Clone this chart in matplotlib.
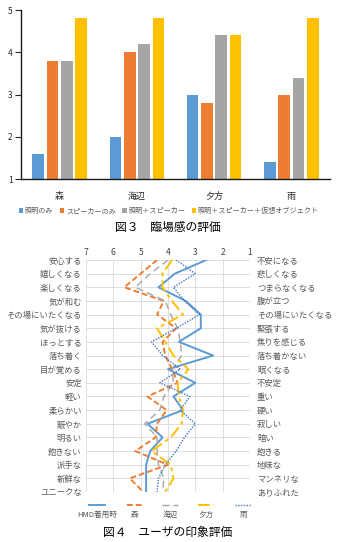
import numpy as np
import matplotlib
matplotlib.use("Agg")
import matplotlib.pyplot as plt
from matplotlib.lines import Line2D

plt.rcParams["font.family"] = ["Noto Sans CJK JP", "DejaVu Sans"]

# --- Fig.3 data: presence ratings ---
places = ["森", "海辺", "夕方", "雨"]
bar_series = ["照明のみ", "スピーカーのみ", "照明＋スピーカー", "照明＋スピーカー＋仮想オブジェクト"]
light_only = [1.6, 2.0, 3.0, 1.4]
speaker_only = [3.8, 4.0, 2.8, 3.0]
light_speaker = [3.8, 4.2, 4.4, 3.4]
light_speaker_obj = [4.8, 4.8, 4.4, 4.8]
bar_colors = ["#5B9BD5", "#ED7D31", "#A5A5A5", "#FFC000"]

# --- Fig.4 data: impression profile (semantic differential) ---
left_words = ["安心する", "嬉しくなる", "楽しくなる", "気が和む", "その場にいたくなる",
              "気が抜ける", "ほっとする", "落ち着く", "目が覚める", "安定", "軽い",
              "柔らかい", "賑やか", "明るい", "飽きない", "派手な", "新鮮な", "ユニークな"]
right_words = ["不安になる", "悲しくなる", "つまらなくなる", "腹が立つ", "その場にいたくなる",
               "緊張する", "焦りを感じる", "落ち着かない", "眠くなる", "不安定", "重い",
               "硬い", "寂しい", "暗い", "飽きる", "地味な", "マンネリな", "ありふれた"]
scale_ticks = [7, 6, 5, 4, 3, 2, 1]
line_names = ["HMD着用時", "森", "海辺", "夕方", "雨"]
hmd = [2.6, 3.75, 4.35, 3.35, 2.8, 2.8, 3.6, 2.35, 4.0, 3.0, 3.8, 3.45, 4.75, 4.2, 4.65, 4.8, 4.8, 4.8]
mori = [4.4, 5.0, 5.6, 4.15, 4.4, 3.7, 4.2, 4.1, 3.85, 3.65, 4.75, 4.05, 4.4, 4.45, 5.2, 4.0, 5.4, 4.9]
umibe = [4.0, 4.65, 5.2, 4.1, 3.9, 3.65, 3.55, 3.5, 3.85, 3.8, 4.15, 4.3, 4.85, 4.4, 4.4, 4.35, 4.15, 4.2]
yuugata = [3.85, 4.2, 4.2, 3.85, 3.45, 4.4, 4.1, 3.8, 3.25, 3.65, 3.6, 3.45, 3.5, 3.9, 4.6, 3.9, 3.8, 4.1]
ame = [3.7, 3.0, 3.8, 3.4, 2.85, 3.7, 4.6, 4.2, 3.55, 4.3, 3.2, 3.55, 3.0, 3.4, 3.7, 4.1, 4.35, 4.4]

line_styles = [
    dict(color="#5B9BD5", lw=1.4, ls="-"),
    dict(color="#ED7D31", lw=1.4, ls=(0, (3, 1.5))),
    dict(color="#A5A5A5", lw=1.0, ls=(0, (5, 3))),
    dict(color="#FFC000", lw=1.4, ls=(0, (6, 2, 2, 2))),
    dict(color="#4472C4", lw=1.0, ls=(0, (1, 1))),
]

W, H = 337, 542
fig = plt.figure(figsize=(W / 100, H / 100), dpi=100)
gray = "#595959"

# ---------- Fig.3 bar chart ----------
ax1 = fig.add_axes([21 / W, 1 - 179 / H, 309 / W, 169 / H])
x = np.arange(len(places))
width = 0.15
pitch = 0.185
for i, (vals, col, name) in enumerate(zip(
        [light_only, speaker_only, light_speaker, light_speaker_obj], bar_colors, bar_series)):
    # Excel-style bars start from the axis minimum (1)
    ax1.bar(x + (i - 1.5) * pitch, np.array(vals) - 1, width, bottom=1, color=col, label=name)
ax1.set_xlim(-0.5, 3.5)
ax1.set_ylim(1, 5)
ax1.set_yticks([1, 2, 3, 4, 5])
ax1.set_xticks(x)
ax1.set_xticklabels(places, fontsize=6.5, color="#262626")
ax1.tick_params(axis="x", length=0, pad=9)
ax1.tick_params(axis="y", labelsize=6, colors="#262626", length=4, width=0.8, pad=2)
for s in ["top", "right"]:
    ax1.spines[s].set_visible(False)
for s in ["left", "bottom"]:
    ax1.spines[s].set_linewidth(1.0)
    ax1.spines[s].set_color("#1a1a1a")
leg = ax1.legend(loc="center", bbox_to_anchor=(169 / W, 1 - 211 / H), bbox_transform=fig.transFigure,
                 ncol=4, fontsize=5.1, frameon=False, handlelength=0.6, handleheight=0.6,
                 handletextpad=0.25, columnspacing=0.9, borderpad=0)
for t in leg.get_texts():
    t.set_color(gray)
fig.text(168 / W, 1 - 227 / H, "図３　臨場感の評価", ha="center", va="center", fontsize=8.5)

# ---------- Fig.4 profile chart ----------
ax2 = fig.add_axes([86 / W, 1 - 492 / H, 164 / W, 232 / H])
rows = np.arange(len(left_words))
for vals, st in zip([hmd, mori, umibe, yuugata, ame], line_styles):
    ax2.plot(vals, rows, **st)
ax2.set_xlim(7, 1)
ax2.set_ylim(len(left_words) - 1, 0)
ax2.set_xticks(scale_ticks)
ax2.xaxis.tick_top()
ax2.set_yticks(rows)
ax2.set_yticklabels(left_words)
ax2.tick_params(axis="x", length=0, labelsize=6, colors="#404040", pad=2)
ax2.tick_params(axis="y", length=0, labelsize=6, colors=gray, pad=3)
ax2.grid(True, color="#D9D9D9", lw=0.6)
ax2.set_axisbelow(True)
for s in ax2.spines.values():
    s.set_visible(False)

ax2r = ax2.twinx()
ax2r.set_ylim(len(right_words) - 1, 0)
ax2r.set_yticks(rows)
ax2r.set_yticklabels(right_words)
ax2r.tick_params(axis="y", length=0, labelsize=6, colors=gray, pad=5)
for s in ax2r.spines.values():
    s.set_visible(False)

# legend: line sample above the label, as in the original
legend_x = [97, 135, 170, 206, 243]
for cx, name, st in zip(legend_x, line_names, line_styles):
    fig.add_artist(Line2D([(cx - 8) / W, (cx + 8) / W], [1 - 505 / H] * 2,
                          transform=fig.transFigure, **st))
    fig.text(cx / W, 1 - 515 / H, name, ha="center", va="center", fontsize=5.5, color=gray)

fig.text(168 / W, 1 - 532 / H, "図４　ユーザの印象評価", ha="center", va="center", fontsize=8.5)

fig.savefig("out.png", dpi=100, facecolor="white")
